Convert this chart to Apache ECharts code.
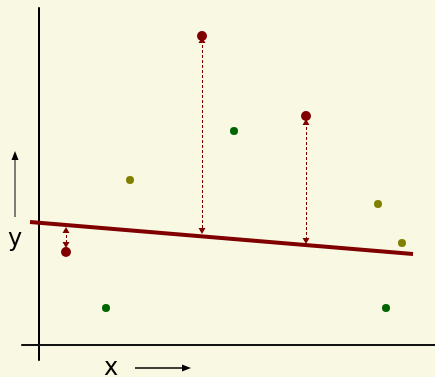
<!DOCTYPE html>
<html><head><meta charset="utf-8">
<script src="https://cdn.jsdelivr.net/npm/echarts@6/dist/echarts.min.js"></script>
<style>html,body{margin:0;padding:0;background:#f9f9e3;}#c{width:435px;height:377px;}</style>
</head><body><div id="c"></div>
<script>
// Points (x, y) in chart units
const redX = [2.7, 16.3, 26.7];
const redY = [9.3, 30.9, 22.9];
const greenX = [6.7, 19.5, 34.7];
const greenY = [3.7, 21.4, 3.7];
const oliveX = [9.1, 33.9, 36.3];
const oliveY = [16.5, 14.1, 10.2];
// Residual arrows (y at each arrow head)
const resStart = [11.5, 30.5, 22.3];
const resEnd = [10.0, 11.4, 10.4];
// Regression line endpoints
const lineX = [-0.9, 37.4];
const lineY = [12.3, 9.1];

const zip = (a, b) => a.map((v, i) => [v, b[i]]);
const tri = 'path://M5,0 L10,9 L0,9 Z';
const chart = echarts.init(document.getElementById('c'));
chart.setOption({
  backgroundColor: '#f9f9e3',
  animation: false,
  grid: {left: 22, right: 0, top: 8, bottom: 17, containLabel: false},
  xAxis: {type: 'value', min: -1.7, max: 39.6,
    axisLine: {onZero: true, lineStyle: {color: '#111', width: 2}},
    axisTick: {show: false}, axisLabel: {show: false}, splitLine: {show: false}},
  yAxis: {type: 'value', min: -1.5, max: 33.7,
    axisLine: {show: true, onZero: true, lineStyle: {color: '#000', width: 2}},
    axisTick: {show: false}, axisLabel: {show: false}, splitLine: {show: false}},
  series: [
    {type: 'line', data: zip(lineX, lineY), symbol: 'none', z: 2,
     lineStyle: {color: '#800000', width: 4}},
    {type: 'scatter', data: zip(redX, redY), symbolSize: 10, z: 4,
     itemStyle: {color: '#800000', opacity: 1},
     markLine: {silent: true, symbol: [tri, tri], symbolSize: [7, 6],
       label: {show: false},
       lineStyle: {color: '#800000', width: 1, type: [3, 2]},
       data: redX.map((x, i) => [{coord: [x, resStart[i]]}, {coord: [x, resEnd[i]]}])}},
    {type: 'scatter', data: zip(greenX, greenY), symbolSize: 8, z: 4,
     itemStyle: {color: '#006400', opacity: 1}},
    {type: 'scatter', data: zip(oliveX, oliveY), symbolSize: 8, z: 4,
     itemStyle: {color: '#808000', opacity: 1}}
  ],
  graphic: [
    {type: 'text', left: 104, top: 357, style: {text: 'x', fontSize: 24, fontFamily: 'DejaVu Sans', fill: '#000'}},
    {type: 'line', shape: {x1: 135, y1: 368, x2: 184, y2: 368}, style: {stroke: '#000', lineWidth: 1.3}},
    {type: 'polygon', shape: {points: [[191, 368], [182, 364.5], [182, 371.5]]}, style: {fill: '#000'}},
    {type: 'text', left: 8, top: 228, style: {text: 'y', fontSize: 24, fontFamily: 'DejaVu Sans', fill: '#000'}},
    {type: 'line', shape: {x1: 15, y1: 217, x2: 15, y2: 158}, style: {stroke: '#555', lineWidth: 1.5}},
    {type: 'polygon', shape: {points: [[15, 151], [11.5, 160], [18.5, 160]]}, style: {fill: '#000'}}
  ]
});
</script></body></html>
